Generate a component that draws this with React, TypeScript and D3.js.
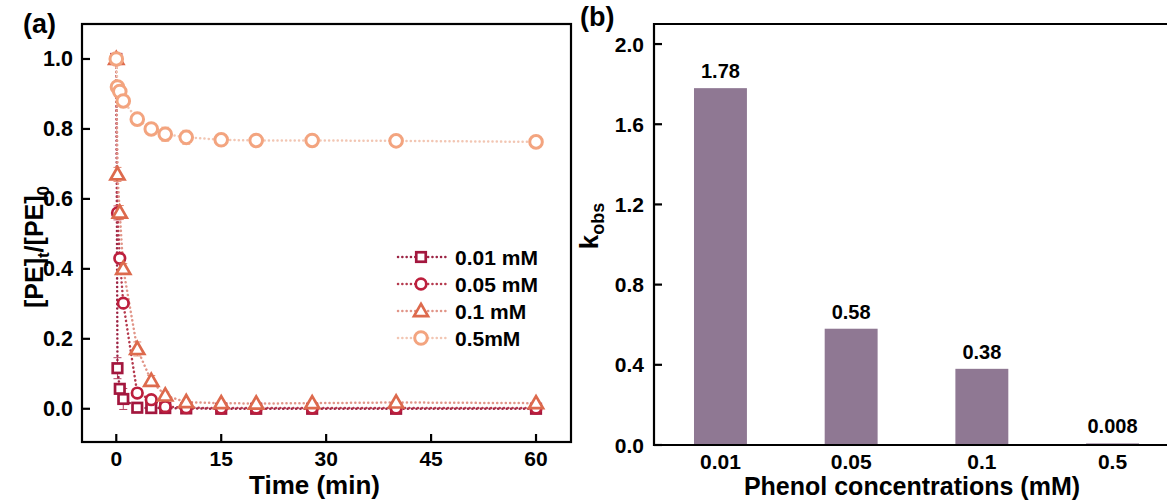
import React from "react";
import * as d3 from "d3";

// ---------- data ----------
const times = [0, 0.17, 0.5, 1, 3, 5, 7, 10, 15, 20, 28, 40, 60];
const pe001 = [1.0, 0.116, 0.057, 0.028, 0.003, 0.002, 0.002, 0.001, 0, 0, 0, 0, 0];
const pe005 = [1.0, 0.56, 0.43, 0.302, 0.045, 0.026, 0.006, 0.003, 0.002, 0.002, 0.002, 0.002, 0.002];
const pe01 = [1.0, 0.67, 0.561, 0.40, 0.171, 0.08, 0.038, 0.019, 0.016, 0.015, 0.016, 0.018, 0.016];
const pe05 = [1.0, 0.92, 0.907, 0.88, 0.828, 0.80, 0.785, 0.776, 0.769, 0.767, 0.767, 0.766, 0.763];
const err001 = [0, 0.03, 0.01, 0.03, 0.005, 0.004, 0.004, 0.003, 0.002, 0.002, 0.002, 0.002, 0.002];
const err005 = [0, 0.02, 0.015, 0.01, 0.01, 0.008, 0.005, 0.004, 0.003, 0.003, 0.003, 0.003, 0.003];
const err01 = [0, 0.02, 0.02, 0.015, 0.02, 0.015, 0.01, 0.006, 0.005, 0.005, 0.005, 0.005, 0.005];
const err05 = [0, 0.012, 0.012, 0.014, 0.015, 0.012, 0.02, 0.02, 0.012, 0.006, 0.006, 0.006, 0.006];
const seriesNames = ["0.01 mM", "0.05 mM", "0.1 mM", "0.5mM"];

const xTicksA = [0, 15, 30, 45, 60];
const yTicksA = [0, 0.2, 0.4, 0.6, 0.8, 1.0];

const phenolConc = ["0.01", "0.05", "0.1", "0.5"];
const kobs = [1.78, 0.58, 0.38, 0.008];
const kobsLabels = ["1.78", "0.58", "0.38", "0.008"];
const yTicksB = [0, 0.4, 0.8, 1.2, 1.6, 2.0];

// ---------- styles ----------
const FONT = "'Liberation Sans', Arial, Helvetica, sans-serif";
const seriesStyle = [
  { marker: "square", stroke: "#A3173E", line: "#9C2444" },
  { marker: "circle", stroke: "#BC1F3D", line: "#B53A4E" },
  { marker: "triangle", stroke: "#DD6A4D", line: "#E19588" },
  { marker: "circle", stroke: "#F3A47F", line: "#F2C6B3" },
];

function Marker({ kind, x, y, color, big }: { kind: string; x: number; y: number; color: string; big?: boolean }) {
  if (kind === "square") {
    const s = 9.5;
    return <rect x={x - s / 2} y={y - s / 2} width={s} height={s} fill="#fff" stroke={color} strokeWidth={2.7} />;
  }
  if (kind === "triangle") {
    const p = d3.symbol().type(d3.symbolTriangle).size(85)();
    return <path d={p || ""} transform={`translate(${x},${y + 1})`} fill="#fff" stroke={color} strokeWidth={2.7} strokeLinejoin="miter" />;
  }
  return <circle cx={x} cy={y} r={big ? 6.3 : 5.3} fill="#fff" stroke={color} strokeWidth={big ? 3 : 2.7} />;
}

export default function App() {
  const W = 1167;
  const H = 501;

  // Panel A scales
  const xA = d3.scaleLinear().domain([-4.9, 65]).range([82, 571]);
  const yA = d3.scaleLinear().domain([-0.095, 1.1]).range([442, 24]);
  const allSeries = [pe001, pe005, pe01, pe05];
  const allErr = [err001, err005, err01, err05];
  const lineGen = d3
    .line<number>()
    .x((_, i) => xA(times[i]))
    .y((d) => yA(d));

  // Panel B scales
  const xB = d3.scaleBand<string>().domain(phenolConc).range([654, 1179]).paddingInner(0.595).paddingOuter(0.306);
  const yB = d3.scaleLinear().domain([0, 2.1]).range([445, 24]);

  const legendX = 421;
  const legendY0 = 257;
  const legendDy = 27;

  return (
    <svg width={W} height={H} style={{ position: "absolute", left: 0, top: 0, background: "#fff" }} fontFamily={FONT} fontWeight="bold">
      <rect x={0} y={0} width={W} height={H} fill="#fff" />
      <defs>
        <clipPath id="clipA">
          <rect x={82} y={24} width={489} height={418} />
        </clipPath>
      </defs>

      {/* ===== Panel A ===== */}
      <g clipPath="url(#clipA)">
        {allSeries.map((s, si) => (
          <path
            key={"l" + si}
            d={lineGen(s) || ""}
            fill="none"
            stroke={seriesStyle[si].line}
            strokeWidth={2.5}
            strokeDasharray="0.1 4.2"
            strokeLinecap="round"
          />
        ))}
        {allSeries.map((s, si) => (
          <g key={"m" + si}>
            {s.map((v, i) =>
              allErr[si][i] > 0 ? (
                <g key={"e" + i} stroke={seriesStyle[si].stroke} strokeWidth={1} opacity={0.8}>
                  <line x1={xA(times[i])} x2={xA(times[i])} y1={yA(v - allErr[si][i])} y2={yA(v + allErr[si][i])} />
                  <line x1={xA(times[i]) - 4} x2={xA(times[i]) + 4} y1={yA(v - allErr[si][i])} y2={yA(v - allErr[si][i])} />
                  <line x1={xA(times[i]) - 4} x2={xA(times[i]) + 4} y1={yA(v + allErr[si][i])} y2={yA(v + allErr[si][i])} />
                </g>
              ) : null
            )}
            {s.map((v, i) => (
              <Marker key={"p" + i} kind={seriesStyle[si].marker} x={xA(times[i])} y={yA(v)} color={seriesStyle[si].stroke} big={si === 3} />
            ))}
          </g>
        ))}
      </g>

      {/* frame A */}
      <rect x={82} y={24} width={489} height={418} fill="none" stroke="#000" strokeWidth={2.2} />
      {xTicksA.map((t) => (
        <g key={"xa" + t}>
          <line x1={xA(t)} x2={xA(t)} y1={442} y2={434} stroke="#000" strokeWidth={2.2} />
          <text x={xA(t)} y={466} textAnchor="middle" fontSize={21}>
            {t}
          </text>
        </g>
      ))}
      {yTicksA.map((t) => (
        <g key={"ya" + t}>
          <line x1={82} x2={90} y1={yA(t)} y2={yA(t)} stroke="#000" strokeWidth={2.2} />
          <text x={73} y={yA(t) + 7.5} textAnchor="end" fontSize={21.5}>
            {t.toFixed(1)}
          </text>
        </g>
      ))}
      <text x={(82 + 571) / 2 - 12} y={494} textAnchor="middle" fontSize={26}>
        Time (min)
      </text>
      <text transform={`translate(43,247) rotate(-90)`} textAnchor="middle" fontSize={25}>
        [PE]
        <tspan fontSize={17} dy={6}>t</tspan>
        <tspan dy={-6}>/[PE]</tspan>
        <tspan fontSize={17} dy={6}>0</tspan>
      </text>
      <text x={23} y={33} fontSize={27}>
        (a)
      </text>

      {/* legend */}
      {seriesNames.map((n, i) => (
        <g key={"lg" + i}>
          <line
            x1={legendX - 23}
            x2={legendX + 25}
            y1={legendY0 + i * legendDy}
            y2={legendY0 + i * legendDy}
            stroke={seriesStyle[i].line}
            strokeWidth={2.5}
            strokeDasharray="0.1 4.2"
            strokeLinecap="round"
          />
          <Marker kind={seriesStyle[i].marker} x={legendX} y={legendY0 + i * legendDy} color={seriesStyle[i].stroke} big={i === 3} />
          <text x={455} y={legendY0 + i * legendDy + 7.5} fontSize={21}>
            {n}
          </text>
        </g>
      ))}

      {/* ===== Panel B ===== */}
      {phenolConc.map((c, i) => (
        <g key={"b" + c}>
          <rect x={xB(c)} y={yB(kobs[i])} width={xB.bandwidth()} height={yB(0) - yB(kobs[i])} fill="#8F7893" />
          <text x={(xB(c) || 0) + xB.bandwidth() / 2} y={yB(kobs[i]) - 10} textAnchor="middle" fontSize={20}>
            {kobsLabels[i]}
          </text>
          <text x={(xB(c) || 0) + xB.bandwidth() / 2} y={469} textAnchor="middle" fontSize={21}>
            {c}
          </text>
        </g>
      ))}
      <polyline points={`${W + 5},24 654,24 654,445 ${W + 5},445`} fill="none" stroke="#000" strokeWidth={2.2} />
      {yTicksB.map((t) => (
        <g key={"yb" + t}>
          <line x1={654} x2={662} y1={yB(t)} y2={yB(t)} stroke="#000" strokeWidth={2.2} />
          <text x={644} y={yB(t) + 7.5} textAnchor="end" fontSize={21}>
            {t.toFixed(1)}
          </text>
        </g>
      ))}
      <text x={912} y={495} textAnchor="middle" fontSize={25}>
        Phenol concentrations (mM)
      </text>
      <text transform={`translate(598,226) rotate(-90)`} textAnchor="middle" fontSize={26}>
        k<tspan fontSize={18} dy={6}>obs</tspan>
      </text>
      <text x={580} y={26} fontSize={27}>
        (b)
      </text>
    </svg>
  );
}
